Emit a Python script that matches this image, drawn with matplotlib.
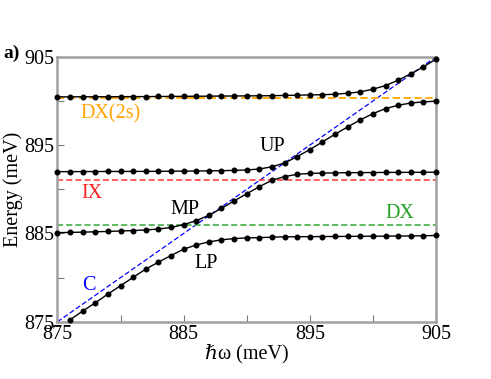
import matplotlib
matplotlib.use("Agg")
import matplotlib.pyplot as plt
import numpy as np

plt.rcParams['font.family'] = ['Liberation Serif', 'DejaVu Serif']
plt.rcParams['font.serif'] = ['Liberation Serif', 'DejaVu Serif']

x_full = list(range(875, 906))
x_lp = list(range(876, 906))

lp = [875.23, 876.21, 877.15, 878.14, 879.08, 880.03, 880.97, 881.75, 882.5, 883.22,
      883.7, 884.05, 884.28, 884.42, 884.5, 884.53, 884.58, 884.62, 884.63, 884.64,
      884.65, 884.66, 884.67, 884.68, 884.69, 884.7, 884.71, 884.72, 884.74, 884.77]

mp = [885.09, 885.12, 885.15, 885.19, 885.23, 885.28, 885.33, 885.4, 885.5, 885.68,
      886.0, 886.45, 887.06, 887.85, 888.68, 889.5, 890.3, 891.03, 891.44, 891.7,
      891.8, 891.84, 891.86, 891.88, 891.89, 891.9, 891.91, 891.92, 891.92, 891.93, 891.94]

up = [892.0, 892.0, 892.01, 892.01, 892.02, 892.02, 892.03, 892.03, 892.04, 892.05,
      892.06, 892.07, 892.09, 892.11, 892.14, 892.19, 892.3, 892.55, 892.98, 893.7,
      894.5, 895.37, 896.24, 897.07, 897.86, 898.57, 899.14, 899.52, 899.77, 899.9, 899.98]

top = [900.47, 900.47, 900.48, 900.48, 900.49, 900.49, 900.5, 900.5, 900.51, 900.52,
       900.53, 900.54, 900.55, 900.56, 900.57, 900.58, 900.59, 900.6, 900.63, 900.66,
       900.69, 900.71, 900.77, 900.88, 901.03, 901.34, 901.75, 902.36, 903.07, 903.87, 904.74]

e_dx2s = 900.3
e_ix = 891.0
e_dx = 886.0
cavity_x = [875, 905]
cavity_y = [875, 905]

ticks = [875, 885, 895, 905]
minor_ticks = [880, 890, 900]

fig = plt.figure(figsize=(4.91, 3.79), dpi=100)
ax = fig.add_axes([0.117, 0.151, 0.771, 0.699])

dash = (0, (4, 2))
ax.plot(cavity_x, cavity_y, color='#0000ff', lw=0.9, linestyle=dash, zorder=2)
ax.axhline(e_dx2s, color='#ffa500', lw=1.3, linestyle=dash, zorder=2)
ax.axhline(e_ix, color='#ff3333', lw=1.1, linestyle=dash, zorder=2)
ax.axhline(e_dx, color='#33a833', lw=1.1, linestyle=dash, zorder=2)

for xs, ys in [(x_lp, lp), (x_full, mp), (x_full, up), (x_full, top)]:
    ax.plot(xs, ys, color='black', lw=1.0, marker='o', markersize=3.3, zorder=3, clip_on=False)

ax.set_xlim(875, 905)
ax.set_ylim(875, 905)
ax.set_xticks(ticks)
ax.set_yticks(ticks)
ax.set_xticks(minor_ticks, minor=True)
ax.set_yticks(minor_ticks, minor=True)
ax.tick_params(which='both', direction='in', length=5, width=0.8, color='#777777',
               labelsize=14.5, pad=2)
for s in ax.spines.values():
    s.set_color('#a0a0a0')
    s.set_linewidth(1.8)

ax.set_xlabel('ℏω (meV)', fontsize=14.5, labelpad=0)
ax.set_ylabel('Energy (meV)', fontsize=14.5, labelpad=1)

fs = 14.5
ax.text(879.2, 898.6, 'DX(2s)', color='#ffa500', fontsize=fs, ha='center', va='center')
ax.text(877.75, 889.55, 'IX', color='#ff2020', fontsize=fs, ha='center', va='center')
ax.text(902.1, 887.3, 'DX', color='#22a022', fontsize=fs, ha='center', va='center')
ax.text(877.5, 879.15, 'C', color='#0000ff', fontsize=fs, ha='center', va='center')
ax.text(892.0, 894.9, 'UP', color='black', fontsize=fs, ha='center', va='center')
ax.text(885.1, 887.75, 'MP', color='black', fontsize=fs, ha='center', va='center')
ax.text(886.8, 881.6, 'LP', color='black', fontsize=fs, ha='center', va='center')

fig.text(0.006, 0.86, 'a)', fontsize=14, fontweight='bold', ha='left', va='center')

fig.savefig('out.png', dpi=100)
